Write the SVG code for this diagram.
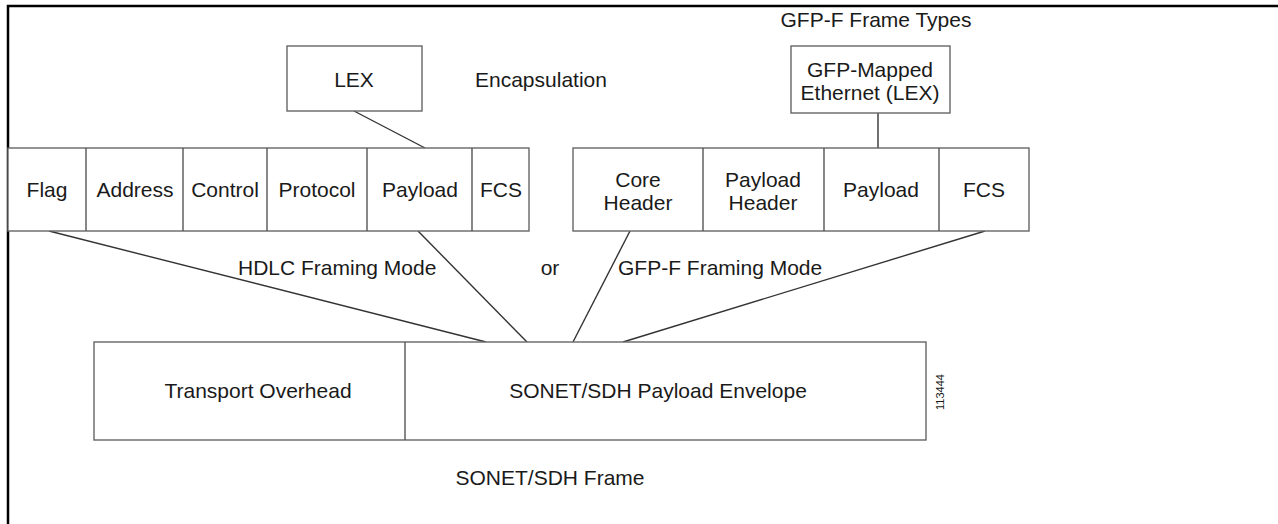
<svg xmlns="http://www.w3.org/2000/svg" width="1278" height="524" viewBox="0 0 1278 524">
<style>
  .box { fill: #fff; stroke: #666; stroke-width: 1.4; }
  .div { stroke: #555; stroke-width: 1.4; }
  .t { font-family: "Liberation Sans", Arial, sans-serif; font-size: 21px; fill: #1a1a1a; }
  .c { text-anchor: middle; }
  .conn line { stroke: #333; stroke-width: 1.4; }
</style>
<rect width="1278" height="524" fill="#fff"/>
<path d="M8,524 V6 H1278" fill="none" stroke="#000" stroke-width="2.5"/>

<g id="connectors" class="conn">
  <line x1="354" y1="111" x2="425" y2="148"/>
  <line x1="878" y1="113" x2="878" y2="148"/>
  <line x1="49" y1="231" x2="486" y2="342"/>
  <line x1="418" y1="231" x2="527" y2="342"/>
  <line x1="630" y1="231" x2="573" y2="342"/>
  <line x1="985" y1="231" x2="623" y2="342"/>
</g>

<g id="lex">
  <rect class="box" x="287" y="46" width="135" height="65"/>
  <text class="t c" x="354" y="87">LEX</text>
</g>
<text id="encapsulation" class="t" x="475" y="87">Encapsulation</text>
<text id="gfp-types-title" class="t c" x="876" y="27">GFP-F Frame Types</text>
<g id="gfp-mapped">
  <rect class="box" x="791" y="46" width="159" height="67"/>
  <text class="t c" x="870" y="77">GFP-Mapped</text>
  <text class="t c" x="870" y="100">Ethernet (LEX)</text>
</g>

<g id="hdlc-frame">
  <rect class="box" x="8" y="148" width="521" height="83"/>
  <line class="div" x1="86" y1="148" x2="86" y2="231"/>
  <line class="div" x1="183" y1="148" x2="183" y2="231"/>
  <line class="div" x1="267" y1="148" x2="267" y2="231"/>
  <line class="div" x1="367" y1="148" x2="367" y2="231"/>
  <line class="div" x1="472" y1="148" x2="472" y2="231"/>
  <text class="t c" x="47" y="197">Flag</text>
  <text class="t c" x="135" y="197">Address</text>
  <text class="t c" x="225" y="197">Control</text>
  <text class="t c" x="317" y="197">Protocol</text>
  <text class="t c" x="420" y="197">Payload</text>
  <text class="t c" x="501" y="197">FCS</text>
</g>

<g id="gfp-frame">
  <rect class="box" x="573" y="148" width="456" height="83"/>
  <line class="div" x1="703" y1="148" x2="703" y2="231"/>
  <line class="div" x1="824" y1="148" x2="824" y2="231"/>
  <line class="div" x1="939" y1="148" x2="939" y2="231"/>
  <text class="t c" x="638" y="187">Core</text>
  <text class="t c" x="638" y="210">Header</text>
  <text class="t c" x="763" y="187">Payload</text>
  <text class="t c" x="763" y="210">Header</text>
  <text class="t c" x="881" y="197">Payload</text>
  <text class="t c" x="984" y="197">FCS</text>
</g>

<text id="hdlc-label" class="t" x="238" y="275">HDLC Framing Mode</text>
<text id="or-label" class="t c" x="550" y="275">or</text>
<text id="gfp-label" class="t" x="618" y="275">GFP-F Framing Mode</text>

<g id="sonet-frame">
  <rect class="box" x="94" y="342" width="832" height="98"/>
  <line class="div" x1="405" y1="342" x2="405" y2="440"/>
  <text class="t c" x="258" y="398">Transport Overhead</text>
  <text class="t c" x="658" y="398">SONET/SDH Payload Envelope</text>
</g>
<text id="fig-id" transform="translate(944,392) rotate(-90)" text-anchor="middle" font-family="Liberation Sans, Arial, sans-serif" font-size="11" fill="#1a1a1a">113444</text>
<text id="sonet-label" class="t c" x="550" y="485">SONET/SDH Frame</text>
</svg>
